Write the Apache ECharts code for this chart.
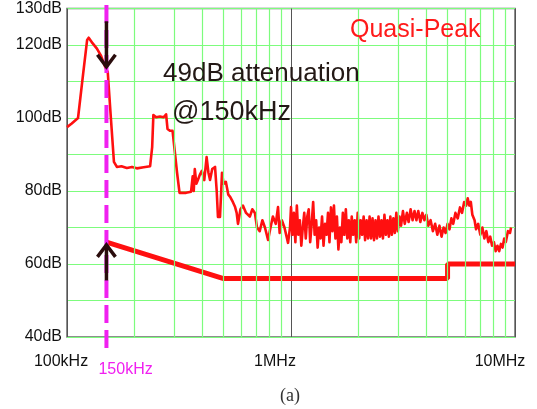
<!DOCTYPE html>
<html>
<head>
<meta charset="utf-8">
<script src="https://cdn.jsdelivr.net/npm/echarts@6/dist/echarts.min.js"></script>
<style>
html,body{margin:0;padding:0;background:#fff;}
#chart{width:537px;height:409px;}
</style>
</head>
<body>
<div id="chart"></div>
<script>
// ---- data (frequency in kHz, level in dB) ----
const traceFreq = [100,105,112,118,123,125,130,136,142,148,152,157,162,167,175,185,195,205,220,235,240,243,250,260,270,277,281,288,296,302,310,318,340,358,364,368,372,378,384,392,400,410,420,428,435,445,458,466,472,482,488,492,500,512,525,535,550,563,572,580,595,610,630,655,672,690,705,725,745,765,790,810,830,855,875,890,910,935,970,990,
1000,1015,1030,1046,1062,1078,1095,1112,1129,1146,1164,1182,1200,1218,1237,1256,1275,1295,1315,1335,1355,1376,1397,1419,1441,1463,1485,1508,1531,1555,1579,1603,1628,1653,1678,1704,1730,1757,1784,1811,1839,1867,1896,1925,1955,1985,2015,2046,2078,2110,2142,2175,2209,2243,2277,2312,2348,2384,2421,2458,2496,2534,2573,2613,2653,2694,2735,2777,2820,2864,2908,2953,2998,
3050,3100,3160,3220,3290,3350,3420,3490,3560,3630,3700,3780,3860,3940,4020,4100,4200,4300,4400,4500,4600,4700,4800,4900,5000,5100,5200,5300,5420,5550,5680,5800,5930,6050,6150,6250,6350,6450,6600,6700,6850,7000,7150,7300,7450,7600,7750,7900,8050,8200,8350,8500,8650,8800,8950,9100,9300,9500,9600];
const traceDb = [97.5,98.5,100,112,121.4,122,120.5,119,117,114,112.6,100,88,86.6,86.8,86.3,86.6,86.2,86.5,86.8,92,100.8,100.2,100.4,100.2,101,97,96.5,96.5,97,85,79.5,79.5,79.8,84,80,86,82,83,84.5,85.5,83,89.3,85,83,86,86.6,80,72.9,72.9,80,85,82,82.5,79,78.4,77,75.6,74,71,75,76,74,73,75,74,70,69,72,70,66.6,70,73,71,75.6,68.5,72,70,65.8,70,
75.6,68,74,66,76,68,72,65,70,74,67,73,75,66,71,77,68,72,64.5,70,67,73,65,71,68,74,66,75.5,69,76,67,73,64,70,66,74,68,75,67,72,66,73,68,72,66,74,67,72,68,73,66.5,72,67,73,67,72.5,66.5,72,67,73,67.5,72,67,73.5,68,72,67.5,73,68,72.5,68.5,74,69,
73,70.5,74.5,71,74,71.5,75,72,74.5,72,74.5,71.5,74,72,73.5,70.5,72,69,71,68,70.5,67.5,70,68.5,71,69.5,72.5,71,74,72.5,75.5,74,77,76,78,76,77,73.5,72,69.5,71,68,70,67,69,66,67.5,65,66,63.5,65,63.5,65.5,64.5,67,66,69,68.5,70];
const limitFreq = [150,500,5000,5000,10000];
const limitDb = [66,56,56,60,60];
const minorFreqs = [200,300,400,500,600,700,800,900,2000,3000,4000,5000,6000,7000,8000,9000];
const yTickLabels = [40,60,80,100,120,130];
const markerFreq = 150;
const downArrowDb = [126.5, 113.5];
const upArrowDb = [55.5, 65.8];

const chart = echarts.init(document.getElementById('chart'), null, {renderer:'canvas'});
const zip = (a,b) => a.map((v,i)=>[v,b[i]]);
const FONT = 'Liberation Sans, Arial, sans-serif';

chart.setOption({
  animation:false,
  backgroundColor:'#fff',
  grid:{left:67,right:22,top:8.5,bottom:72,show:true,borderColor:'#6a6a6a',borderWidth:1.5,backgroundColor:'transparent'},
  xAxis:{
    type:'log', logBase:10, min:100, max:10000,
    axisLine:{show:false}, axisTick:{show:false},
    splitLine:{show:true,lineStyle:{color:'#555',width:1}},
    axisLabel:{
      margin:17, color:'#111', fontFamily:FONT, fontSize:16,
      formatter:v=> v===100?'{a|100kHz}': v===1000?'{b|1MHz}':'{c|10MHz}',
      rich:{
        a:{fontSize:16,fontFamily:FONT,color:'#111',padding:[0,12,0,0]},
        b:{fontSize:16,fontFamily:FONT,color:'#111',padding:[0,32,0,0]},
        c:{fontSize:16,fontFamily:FONT,color:'#111',padding:[0,30,0,0]}
      }
    }
  },
  yAxis:{
    type:'value', min:40, max:130, interval:10,
    axisLine:{show:false}, axisTick:{show:false},
    splitLine:{show:true,lineStyle:{color:'#7dfc7d',width:1.2}},
    axisLabel:{margin:5,color:'#111',fontFamily:FONT,fontSize:16,
      formatter:v=> yTickLabels.indexOf(v)>=0 ? v+'dB' : ''}
  },
  series:[
    {type:'line',data:[],silent:true,z:1,
     markLine:{silent:true,symbol:['none','none'],label:{show:false},
       lineStyle:{color:'#7dfc7d',type:'solid',width:1.2},
       data:minorFreqs.map(f=>({xAxis:f}))}},
    {type:'line',data:zip(limitFreq,limitDb),symbol:'none',z:3,
     lineStyle:{color:'#ff1010',width:5}},
    {type:'line',data:zip(traceFreq,traceDb),symbol:'none',z:4,
     lineStyle:{color:'#ff1010',width:2.6,join:'round'}}
  ]
});

// annotations positioned through the axes
const P = (f,db)=>chart.convertToPixel({xAxisIndex:0,yAxisIndex:0},[f,db]);
const mx = P(markerFreq,100)[0];
const d0 = P(markerFreq,downArrowDb[0]), d1 = P(markerFreq,downArrowDb[1]);
const u0 = P(markerFreq,upArrowDb[0]), u1 = P(markerFreq,upArrowDb[1]);
const AC = '#2a0c0c';
chart.setOption({
  graphic:[
    {type:'line',z:10,shape:{x1:mx,y1:5,x2:mx,y2:352},
     style:{stroke:'#f020f0',lineWidth:4,lineDash:[18,7]}},
    {type:'line',z:11,shape:{x1:d0[0],y1:d0[1],x2:d1[0],y2:d1[1]-2},style:{stroke:AC,lineWidth:3.5}},
    {type:'polyline',z:11,shape:{points:[[d1[0]-9,d1[1]-14],[d1[0],d1[1]-2],[d1[0]+9,d1[1]-14]]},style:{stroke:AC,lineWidth:3.5,fill:null}},
    {type:'line',z:11,shape:{x1:u0[0],y1:u0[1],x2:u1[0],y2:u1[1]+2},style:{stroke:AC,lineWidth:3.5}},
    {type:'polyline',z:11,shape:{points:[[u1[0]-9,u1[1]+14],[u1[0],u1[1]+2],[u1[0]+9,u1[1]+14]]},style:{stroke:AC,lineWidth:3.5,fill:null}},
    {type:'text',z:12,x:mx-8,y:370,style:{text:'150kHz',fill:'#f020f0',font:'16px '+FONT,textAlign:'left',textVerticalAlign:'middle'}},
    {type:'text',z:12,x:163,y:74,style:{text:'49dB attenuation',fill:'#231815',font:'26px '+FONT,textAlign:'left',textVerticalAlign:'middle'}},
    {type:'text',z:12,x:172,y:113,style:{text:'@150kHz',fill:'#231815',font:'27px '+FONT,textAlign:'left',textVerticalAlign:'middle'}},
    {type:'text',z:12,x:350,y:30,style:{text:'Quasi-Peak',fill:'#ff1a1a',font:'25px '+FONT,textAlign:'left',textVerticalAlign:'middle'}},
    {type:'text',z:12,x:290,y:396,style:{text:'(a)',fill:'#333',font:'18px Liberation Serif, Times New Roman, serif',textAlign:'center',textVerticalAlign:'middle'}}
  ]
});
</script>
</body>
</html>
